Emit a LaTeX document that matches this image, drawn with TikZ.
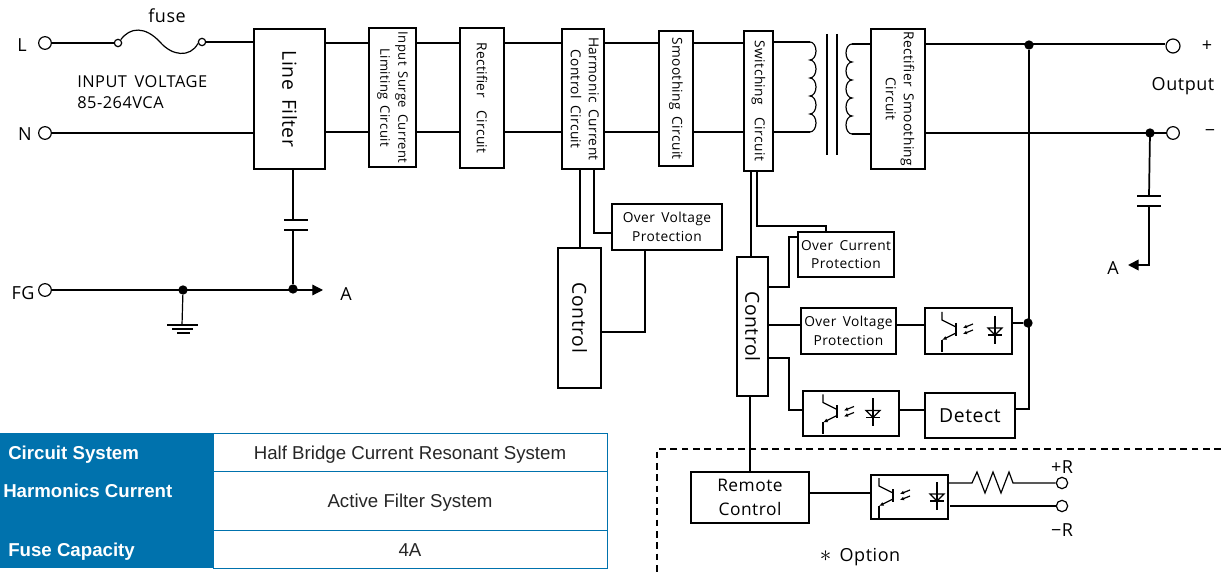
\documentclass[tikz,border=0pt]{standalone}
\usepackage{fontspec}
\setmainfont{Liberation Sans}
\newfontfamily\diagfont[LetterSpace=3,WordSpace=1.6]{Open Sans}
\usetikzlibrary{arrows,shapes,arrows.meta}
\definecolor{tableblue}{HTML}{0072AD}
\definecolor{tabletext}{HTML}{262626}
\tikzset{
  boxsize/.style 2 args={minimum width=#1*0.75pt,minimum height=#2*0.75pt},
  blockbox/.style={draw,line width=1.2pt,inner sep=0pt,align=center,font=\diagfont\fontsize{10.3}{11.5}\selectfont},
  bigtext/.style={font=\diagfont\fontsize{14.5}{15}\selectfont},
  smalltext/.style={font=\diagfont\fontsize{10.3}{14}\selectfont},
  label/.style={inner sep=0pt,font=\diagfont\fontsize{13.5}{15}\selectfont},
  wire/.style={line width=0.9pt},
  heavy/.style={line width=1.3pt},
  terminal/.style={draw,circle,fill=white,line width=0.9pt,inner sep=0pt,minimum size=9.5pt},
  fusepin/.style={draw,circle,fill=white,line width=0.9pt,inner sep=0pt,minimum size=5.5pt},
  junction/.style={circle,fill=black,inner sep=0pt,minimum size=7pt},
  headcell/.style={fill=tableblue,inner sep=0pt,minimum width=159.75pt},
  valuecell/.style={draw=tableblue,line width=0.7pt,inner sep=0pt,minimum width=295.5pt,text=tabletext,text height=11pt,text depth=0pt,font=\fontsize{14}{16}\selectfont},
  headtext/.style={inner sep=0pt,anchor=west,text=white,text height=10pt,text depth=0pt,font=\bfseries\fontsize{14}{16}\selectfont},
  bigtip/.style={-{Triangle[length=8pt,width=8pt]}},
}
\begin{document}
\begin{tikzpicture}[x=0.75pt,y=0.75pt]
    \useasboundingbox (0,0) rectangle (1221,-573);
    \coordinate (railL) at (0,-43);
    \coordinate (railN) at (0,-132);
    \coordinate (railP) at (0,-44);
    % blocks of the power path
    \node [blockbox,bigtext,boxsize={71}{140}] (linefilter) at (289.5,-99) {\rotatebox{-90}{Line Filter}};
    \node [blockbox,font=\diagfont\fontsize{9.8}{11.5}\selectfont,boxsize={47}{139}] (surge) at (392.5,-97.5) {\rotatebox{-90}{\begin{tabular}{@{}c@{}}Input Surge Current\\[2pt]Limiting Circuit\end{tabular}}};
    \node [blockbox,boxsize={44}{140}] (rectifier) at (482,-98) {\rotatebox{-90}{Rectifier~~Circuit}};
    \node [blockbox,boxsize={42}{140}] (harmonic) at (583,-99) {\rotatebox{-90}{\begin{tabular}{@{}c@{}}Harmonic Current\\[2pt]Control Circuit\end{tabular}}};
    \node [blockbox,boxsize={34}{135}] (smoothing) at (676,-98.5) {\rotatebox{-90}{Smoothing Circuit}};
    \node [blockbox,boxsize={29}{140}] (switching) at (758.5,-101) {\rotatebox{-90}{Switching~~Circuit}};
    \node [blockbox,boxsize={54}{140}] (recsmooth) at (898,-99) {\rotatebox{-90}{\begin{tabular}{@{}c@{}}Rectifier Smoothing\\[2pt]Circuit\end{tabular}}};
    % control blocks
    \node [blockbox,smalltext,boxsize={110}{46}] (ovpa) at (667,-227) {Over Voltage\\Protection};
    \node [blockbox,bigtext,boxsize={43}{140}] (controla) at (579.5,-318) {\rotatebox{-90}{Control}};
    \node [blockbox,smalltext,boxsize={96}{45}] (ocp) at (846,-254.5) {Over Current\\Protection};
    \node [blockbox,bigtext,boxsize={31}{139}] (controlb) at (752.5,-326.5) {\rotatebox{-90}{Control}};
    \node [blockbox,smalltext,boxsize={95}{46}] (ovpb) at (848.5,-331) {Over Voltage\\Protection};
    \node [blockbox,boxsize={87}{46}] (optoa) at (968.5,-331) {};
    \node [blockbox,boxsize={96}{45}] (optob) at (851,-413.5) {};
    \node [blockbox,bigtext,boxsize={90}{45}] (detect) at (970,-415.5) {Detect};
    \node [blockbox,font=\diagfont\fontsize{13}{17.5}\selectfont,boxsize={118}{51}] (remote) at (750,-497.5) {Remote\\Control};
    \node [blockbox,boxsize={77}{44}] (optoc) at (909.5,-497) {};
    % terminals and dots
    \node [terminal] (termL) at (45,-43) {};
    \node [terminal] (termN) at (45,-133) {};
    \node [terminal] (termFG) at (45,-290) {};
    \node [fusepin] (fusea) at (118,-43) {};
    \node [fusepin] (fuseb) at (202,-42) {};
    \node [terminal,minimum size=10.5pt] (termP) at (1173,-46) {};
    \node [terminal] (termM) at (1173,-133) {};
    \node [terminal,minimum size=8.5pt] (termRp) at (1062,-483) {};
    \node [terminal,minimum size=8.5pt] (termRm) at (1062,-506) {};
    \node [junction] (dotP) at (1029,-45) {};
    \node [junction] (dotM) at (1150,-133) {};
    \node [junction] (dotB) at (1028,-323) {};
    \node [junction] (dotG) at (183,-290) {};
    \node [junction] (dotA) at (293,-289) {};
    % labels
    \node [label] (labL) at (22,-45) {L};
    \node [label] (labN) at (25,-134) {N};
    \node [label] (labFG) at (23,-293) {FG};
    \node [label] (labfuse) at (167,-16) {fuse};
    \node [label,anchor=west,font=\diagfont\fontsize{12.3}{15}\selectfont] (labin) at (77,-82) {INPUT VOLTAGE};
    \node [label,anchor=west,font=\diagfont\fontsize{12.3}{15}\selectfont] (labvolt) at (77,-103) {85-264VCA};
    \node [label] (labA) at (346,-294) {A};
    \node [label] (labAb) at (1113,-268) {A};
    \node [label] (labplus) at (1207,-46) {+};
    \node [label] (labminus) at (1210,-133) {−};
    \node [label] (labout) at (1183,-86) {Output};
    \node [label] (labRp) at (1062,-467) {+R};
    \node [label] (labRm) at (1062,-530) {−R};
    \node [label] (laboption) at (860,-557) {{\fontsize{19}{19}\selectfont$\ast$} Option};
    % wires of the input side
    \draw [wire] (termL) -- (fusea);
    \draw [wire] (fusea.50) .. controls (130,-27) and (145,-26) .. (160,-42) .. controls (172,-56) and (190,-58) .. (fuseb.200);
    \draw [wire] (fuseb) -- (linefilter.west |- fuseb);
    \draw [wire] (termN) -- (linefilter.west |- termN);
    \foreach \boxa/\boxb in {linefilter/surge,surge/rectifier,rectifier/harmonic,harmonic/smoothing,smoothing/switching} {
        \draw [wire] (\boxa.east |- railL) -- (\boxb.west |- railL);
        \draw [wire] (\boxa.east |- railN) -- (\boxb.west |- railN);
    }
    % transformer
    \coordinate (coilatop) at (810,-42);
    \coordinate (coilabot) at (810,-132);
    \coordinate (coilbtop) at (852,-44);
    \coordinate (coilbbot) at (852,-134);
    \draw [heavy] (switching.east |- coilatop) -- (coilatop);
    \draw [heavy] (switching.east |- coilabot) -- (coilabot);
    \draw [wire] (coilatop) \foreach \i in {1,...,5} { arc (90:-90:6 and 9) };
    \draw [heavy] (recsmooth.west |- coilbtop) -- (coilbtop);
    \draw [heavy] (recsmooth.west |- coilbbot) -- (coilbbot);
    \draw [wire] (coilbtop) \foreach \i in {1,...,5} { arc (90:270:6 and 9) };
    \coordinate (corea) at (827,-34);
    \coordinate (coreb) at (837,-34);
    \draw [heavy] (corea) -- (827,-155);
    \draw [heavy] (coreb) -- (837,-155);
    % output side
    \draw [heavy] (recsmooth.east |- railP) -- (termP.west |- railP);
    \draw [heavy] (recsmooth.east |- termM) -- (termM);
    \coordinate (detout) at (1029,-409);
    \draw [wire] (dotP) -- (detout) -- (detect.east |- detout);
    \draw [heavy] (optoa.east |- dotB) -- (dotB);
    \coordinate (capRa) at (1149,-196);
    \coordinate (capRb) at (1149,-206);
    \coordinate (capRc) at (1149,-265);
    \coordinate (arrA) at (1128,-265);
    \draw [heavy] (dotM.center) -- (capRa);
    \draw [heavy] (1137,-196) -- (1161,-196);
    \draw [line width=1.8pt] (1137,-206) -- (1161,-206);
    \draw [heavy,bigtip] (capRb) -- (capRc) -- (arrA);
    % frame ground
    \coordinate (capLa) at (293,-220);
    \coordinate (capLb) at (293,-230);
    \coordinate (arrG) at (323,-290);
    \draw [heavy] (linefilter.south -| capLa) -- (capLa);
    \draw [heavy] (284,-220) -- (308,-220);
    \draw [line width=1.8pt] (284,-230) -- (308,-230);
    \draw [heavy] (capLb) -- (dotA);
    \draw [wire,bigtip] (termFG) -- (arrG);
    \coordinate (gnd) at (182,-325);
    \draw [wire] (dotG) -- (gnd);
    \draw [wire] (167,-325) -- (198,-325);
    \draw [wire] (172,-329) -- (193,-329);
    \draw [heavy] (177,-333) -- (190,-333);
    % control wires
    \coordinate (harmA) at (580,-169);
    \coordinate (harmB) at (594,-169);
    \coordinate (ovpaB) at (645,-250);
    \coordinate (swA) at (751,-171);
    \coordinate (swB) at (757,-171);
    \coordinate (ocpT) at (826,-232);
    \coordinate (ocpW) at (798,-237);
    \coordinate (ctrlB) at (768,-287);
    \coordinate (ctrlC) at (768,-325);
    \coordinate (ctrlD) at (768,-358);
    \coordinate (optobW) at (803,-410);
    \draw [heavy] (harmA) -- (harmA |- controla.north);
    \draw [heavy] (harmB) |- (ovpa.west |- 0,-233);
    \draw [heavy] (ovpaB) |- (controla.east |- 0,-332);
    \draw [heavy] (swA) -- (swA |- controlb.north);
    \draw [wire] (swB) |- (826,-226) -- (ocpT);
    \draw [heavy] (ctrlB) -| (789,-237) -- (ocpW);
    \draw [heavy] (ctrlC) -- (ovpb.west |- ctrlC);
    \draw [heavy] (ovpb.east |- ctrlC) -- (optoa.west |- ctrlC);
    \draw [wire] (ctrlD) -| (789,-410) -- (optobW);
    \draw [wire] (optob.east |- optobW) -- (detect.west |- optobW);
    \draw [heavy] (controlb.south -| remote.north) -- (remote.north);
    \draw [heavy] (remote.east |- 0,-493) -- (optoc.west |- 0,-493);
    \coordinate (zigA) at (972,-483);
    \coordinate (zigB) at (1013,-483);
    \draw [wire] (optoc.east |- zigA) -- (zigA) -- (977,-472) -- (985,-493) -- (993,-472) -- (1001,-493) -- (1009,-472) -- (zigB) -- (termRp);
    \draw [wire] (950,-506) -- (termRm);
    % optocouplers
    \foreach \tx/\dx/\oy in {942/995/-331,823/873/-413.5,879/937/-497} {
        \draw [wire] (\tx,\oy+19) -- (\tx,\oy+11) -- (\tx+14,\oy+4);
        \draw [line width=1.8pt] (\tx+14,\oy+8) -- (\tx+14,\oy-5);
        \draw [wire,-{Latex[length=3.5pt,width=3pt]}] (\tx+14,\oy-2) -- (\tx,\oy-9);
        \draw [wire] (\tx,\oy-9) -- (\tx,\oy-21);
        \draw [wire,-{Latex[length=3pt,width=3pt]}] (\tx+31,\oy+7) -- (\tx+21,\oy+3);
        \draw [wire,-{Latex[length=3pt,width=3pt]}] (\tx+31,\oy+1) -- (\tx+21,\oy-3);
        \draw [wire] (\dx,\oy+15) -- (\dx,\oy-13);
        \draw [wire] (\dx-7,\oy+3) -- (\dx+7,\oy+3) -- (\dx,\oy-4) -- cycle;
        \draw [wire] (\dx-7,\oy-4) -- (\dx+7,\oy-4);
    }
    % option frame
    \coordinate (frameA) at (1221,-449);
    \coordinate (frameB) at (657,-449);
    \coordinate (frameC) at (657,-573);
    \draw [line width=1.2pt,dash pattern=on 5pt off 3.5pt] (frameA) -- (frameB) -- (frameC);
    % table
    \node [headcell,minimum height=28.5pt] (headA) at (106.5,-452) {};
    \node [headcell,minimum height=44.25pt] (headB) at (106.5,-500.5) {};
    \node [headcell,minimum height=28.5pt] (headC) at (106.5,-549) {};
    \node [valuecell,minimum height=28.5pt] (valA) at (410,-452) {Half Bridge Current Resonant System};
    \node [valuecell,minimum height=44.25pt] (valB) at (410,-500.5) {Active Filter System};
    \node [valuecell,minimum height=28.5pt] (valC) at (410,-549) {4A};
    \node [headtext] (textA) at (8,-453) {Circuit System};
    \node [headtext] (textB) at (3,-491) {Harmonics Current};
    \node [headtext] (textC) at (8,-550) {Fuse Capacity};
\end{tikzpicture}
\end{document}
